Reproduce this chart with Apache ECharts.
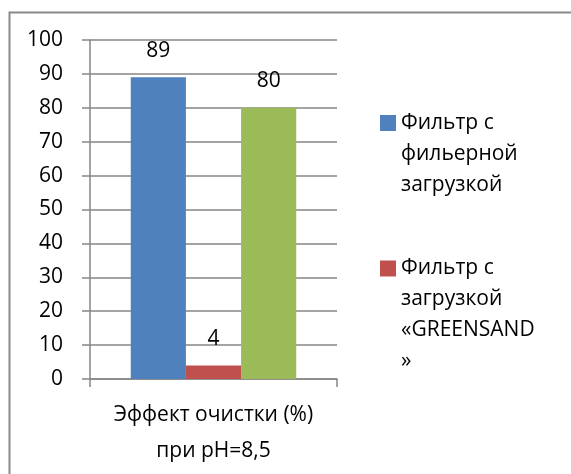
<!DOCTYPE html>
<html>
<head>
<meta charset="utf-8">
<script src="https://cdn.jsdelivr.net/npm/echarts@6/dist/echarts.min.js"></script>
<style>
html,body{margin:0;padding:0;background:#fff;}
#chart{width:571px;height:474px;}
</style>
</head>
<body>
<div id="chart"></div>
<script>
const categories = ['Эффект очистки (%)\nпри pH=8,5'];
const seriesNames = ['Фильтр с фильерной загрузкой', 'Фильтр с загрузкой «GREENSAND»', 'Ряд 3'];
const legendLines = {
  'Фильтр с фильерной загрузкой': ['Фильтр с', 'фильерной', 'загрузкой'],
  'Фильтр с загрузкой «GREENSAND»': ['Фильтр с', 'загрузкой', '«GREENSAND', '»']
};
const blueValues = [89];
const redValues = [4];
const greenValues = [80];
const colors = ['#4F81BD', '#C0504D', '#9BBB59'];

const FONT = 'Open Sans';
const LH = 31;

function legendFor(name, top) {
  const lines = legendLines[name];
  const n = lines.length;
  return {
    data: [name],
    orient: 'vertical',
    left: 380,
    top: top,
    padding: 0,
    itemWidth: 16,
    itemHeight: 16,
    icon: 'rect',
    selectedMode: false,
    formatter: () => '{sp| }\n' + lines.map(s => '{t|' + s + '}').join('\n'),
    textStyle: {
      fontFamily: FONT,
      fontSize: 21,
      color: '#000',
      rich: {
        t: {fontFamily: FONT, fontSize: 21, color: '#000', lineHeight: LH, height: LH},
        sp: {fontSize: 4, lineHeight: (n - 1) * LH, height: (n - 1) * LH}
      }
    }
  };
}

const chart = echarts.init(document.getElementById('chart'), null, {renderer: 'canvas'});
const labelCfg = {
  show: true,
  position: 'top',
  distance: 16,
  fontFamily: FONT,
  fontSize: 21,
  color: '#000'
};
chart.setOption({
  animation: false,
  textStyle: {fontFamily: FONT},
  graphic: [{
    type: 'rect',
    left: 7, top: 10,
    shape: {x: 0, y: 0, width: 700, height: 600},
    style: {fill: 'none', stroke: '#8a8a8a', lineWidth: 2},
    silent: true
  }],
  legend: [
    legendFor(seriesNames[0], 45.5),
    legendFor(seriesNames[1], 160)
  ],
  grid: {left: 90, right: 234, top: 40, bottom: 95, containLabel: false},
  xAxis: {
    type: 'category',
    data: categories,
    axisLine: {show: true, lineStyle: {color: '#868686', width: 1.5}},
    axisTick: {show: true, length: 8, lineStyle: {color: '#868686', width: 1.5}},
    axisLabel: {
      margin: 18,
      fontFamily: FONT,
      fontSize: 21,
      color: '#000',
      lineHeight: 36
    }
  },
  yAxis: {
    type: 'value',
    min: 0,
    max: 100,
    interval: 10,
    axisLine: {show: true, lineStyle: {color: '#868686', width: 1.5}},
    axisTick: {show: true, length: 8, lineStyle: {color: '#868686', width: 1.5}},
    axisLabel: {margin: 27, fontFamily: FONT, fontSize: 21, color: '#000'},
    splitLine: {show: true, lineStyle: {color: '#868686', width: 1.5}}
  },
  series: [
    {name: seriesNames[0], type: 'bar', data: blueValues, itemStyle: {color: colors[0]}, barGap: '0%', barCategoryGap: '33%', label: labelCfg},
    {name: seriesNames[1], type: 'bar', data: redValues, itemStyle: {color: colors[1]}, barGap: '0%', barCategoryGap: '33%', label: labelCfg},
    {name: seriesNames[2], type: 'bar', data: greenValues, itemStyle: {color: colors[2]}, barGap: '0%', barCategoryGap: '33%', label: labelCfg}
  ]
});
</script>
</body>
</html>
